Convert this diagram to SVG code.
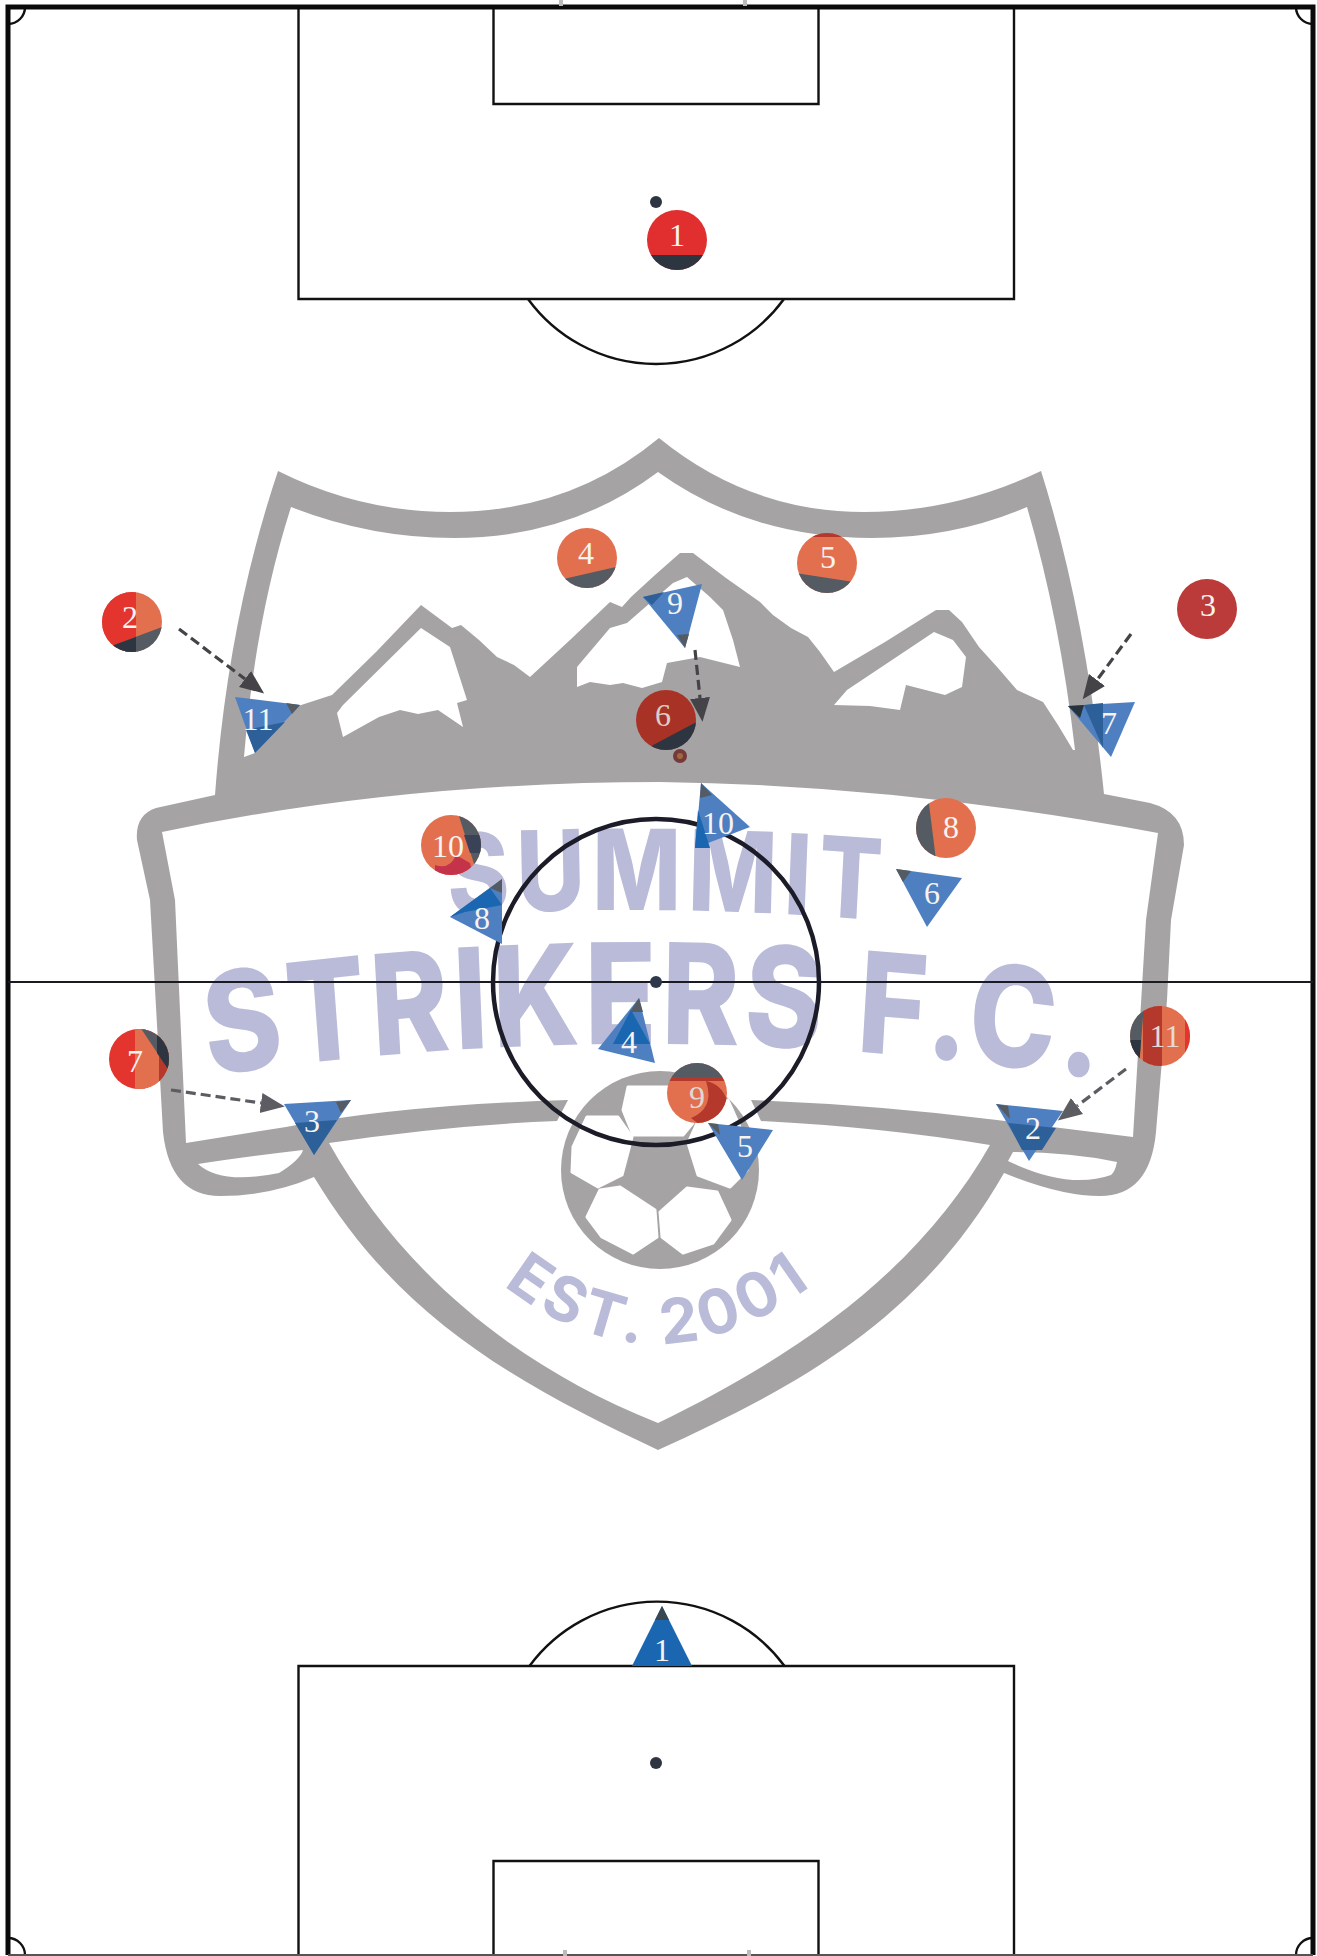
<svg xmlns="http://www.w3.org/2000/svg" width="1317" height="1956" viewBox="0 0 1317 1956">
<style>
.ln{fill:none;stroke:#111;stroke-width:2.4}
.lg{font-family:Inter,"Open Sans","Liberation Sans",sans-serif;font-weight:700;fill:#b9bbd9}
.n{font-family:"Liberation Serif",serif;font-size:32px;fill:#f6f3f0;text-anchor:middle}
.m{fill:#e2704f}.r{fill:#e3352d}.dr{fill:#b5382c}.g{fill:#555b62}.k{fill:#2d3640}
.b{fill:#4d7fc1}.d{fill:#2d5f98}.s{fill:#1a66b0}
.cn{fill:none;stroke-width:3.200;stroke-dasharray:10 5}
</style>
<defs>
<marker id="hd" markerUnits="userSpaceOnUse" markerWidth="25" markerHeight="22" refX="0" refY="11" orient="auto"><path d="M0 1L24 11L0 21Z" fill="#444448"/></marker>
<marker id="hg" markerUnits="userSpaceOnUse" markerWidth="25" markerHeight="22" refX="0" refY="11" orient="auto"><path d="M0 1L24 11L0 21Z" fill="#5c5c62"/></marker>
<path id="p1" d="M534 916Q786 902 1052 921"/>
<path id="p2" d="M248 1076Q781 1010 1315 1080"/>
<path id="p3" d="M500 1283Q655 1405 815 1283"/>
<clipPath id="c1"><circle cx="677" cy="240" r="30"/></clipPath>
<clipPath id="c2"><circle cx="132" cy="622" r="30"/></clipPath>
<clipPath id="c4"><circle cx="587" cy="558" r="30"/></clipPath>
<clipPath id="c5"><circle cx="827" cy="563" r="30"/></clipPath>
<clipPath id="c6"><circle cx="666" cy="720" r="30"/></clipPath>
<clipPath id="c7"><circle cx="139" cy="1059" r="30"/></clipPath>
<clipPath id="c8"><circle cx="946" cy="828" r="30"/></clipPath>
<clipPath id="c9"><circle cx="697" cy="1093" r="30"/></clipPath>
<clipPath id="c10"><circle cx="451" cy="845" r="30"/></clipPath>
<clipPath id="c11"><circle cx="1160" cy="1036" r="30"/></clipPath>
</defs>
<rect width="1317" height="1956" fill="#fff"/>
<g id="logo">
<path fill="#a6a3a4" fill-rule="evenodd" d="M278 471Q360 512 450 512Q570 512 659 438Q750 512 864 512Q955 512 1041 471Q1085 610 1104 794L1150 803Q1184 812 1184 845L1171 920L1167 1000L1156 1132Q1150 1196 1100 1196Q1061 1196 1004 1173C920 1320 800 1385 658 1450C520 1385 400 1320 314 1177Q270 1196 220 1196Q170 1196 163 1132L154 971L150 900L137 840Q135 815 156 808L215 795Q228 620 278 471Z
M291 507Q370 538 454 538Q570 538 658 472Q750 538 872 538Q955 538 1027 507Q1060 620 1075 750L1073 750L1058 725L1043 702L1017 690L998 668L979 647L962 622L949 610L936 610L885 642L834 672L820 652L808 637L791 628L773 615L760 602L726 578L693 553L680 553L655 575L631 597L622 607L610 602L570 640L530 677L514 665L497 657L479 640L461 625L452 628L421 605L376 652L332 695L295 707L255 753L244 757Q255 620 291 507Z
M421 628L450 647L458 672L467 700L457 703L463 727L438 710L418 714L400 710L379 717L343 737L337 713L343 705Z
M577 667L577 687L590 682L610 685L623 683L642 688L662 682L667 663L700 657L740 667L733 640L723 610L710 597L687 577L673 583L627 623L610 628Z
M934 632L953 640L966 657L962 687L945 695L906 685L900 710L870 706L834 705L847 690Z
M162 832Q400 782 660 782Q900 785 1158 833L1146 920L1133 1137L997 1120Q880 1105 751 1100L761 1121Q880 1127 990 1145C930 1250 830 1340 658 1423C500 1360 395 1260 329 1143Q450 1125 557 1121L568 1100Q400 1105 286 1127L186 1143L175 900Z
M198 1164Q243 1157 303 1150Q300 1160 279 1173Q221 1185 198 1164Z
M1013 1152Q1070 1152 1117 1162Q1115 1172 1111 1175Q1069 1190 1008 1161Z"/>
<circle cx="660" cy="1170" r="99" fill="#a6a3a4"/>
<g fill="#fff" stroke="#fff" stroke-width="3" stroke-linejoin="round">
<path d="M628 1087L673 1087L693 1123L683 1135L633 1135L623 1110Z"/>
<path d="M587 1117L618 1117L632 1137L622 1175L598 1187L572 1172L573 1147Z"/>
<path d="M697 1123L728 1100L740 1127L747 1170L730 1187L698 1175L688 1143Z"/>
<path d="M600 1190L620 1187L655 1210L657 1237L633 1253L602 1237L587 1217Z"/>
<path d="M687 1188L717 1192L730 1220L713 1243L683 1253L662 1237L660 1212Z"/>
</g>
<g transform="scale(.84 1)">
<text class="lg" font-size="112" style="font-weight:800"><textPath href="#p1" textLength="514" lengthAdjust="spacing">SUMMIT</textPath></text>
<text class="lg" font-size="140" style="font-weight:800"><textPath href="#p2" textLength="1062" lengthAdjust="spacing">STRIKERS F.C.</textPath></text>
</g>
<text class="lg" font-size="62"><textPath href="#p3" startOffset="4" textLength="335" lengthAdjust="spacing">EST. 2001</textPath></text>
</g>
<g id="pitch">
<path class="ln" d="M298.5 7V299H1014V7M493.500 7V104H818.500V7"/>
<path class="ln" d="M298.500 1955V1666H1014V1955M493.500 1955V1861H818.500V1955"/>
<path class="ln" d="M528 299A158.500 158.500 0 0 0 784 299M529.500 1666A158.500 158.500 0 0 1 784.500 1666"/>
<path class="ln" d="M25 7A17 17 0 0 1 8 24M1296 7A17 17 0 0 0 1313 24M8 1938A17 17 0 0 1 25 1955M1296 1955A17 17 0 0 1 1313 1938"/>
<path d="M8 1955V7H1313V1955" fill="none" stroke="#0a0a0a" stroke-width="5"/>
<path d="M8 1955H1313" fill="none" stroke="#555" stroke-width="2"/>
<path d="M8 982H1313" fill="none" stroke="#1a1a24" stroke-width="2"/>
<circle cx="656" cy="982" r="163" fill="none" stroke="#1c1c28" stroke-width="4.500"/>
<circle cx="656" cy="982" r="6" fill="#2e3a4c"/>
<circle cx="656" cy="202" r="6" fill="#2d3640"/>
<circle cx="656" cy="1763" r="6" fill="#2d3640"/>
<path d="M561 0V6M745 0V6M565 1950V1956M749 1950V1956" stroke="#bbb" stroke-width="4" fill="none"/>
</g>
<g id="connectors">
<path class="cn" stroke="#444448" marker-end="url(#hd)" d="M179 629L245 679"/>
<path class="cn" stroke="#444448" marker-end="url(#hd)" d="M695 650L700 698"/>
<path class="cn" stroke="#444448" marker-end="url(#hd)" d="M1131 634L1097 680"/>
<path class="cn" stroke="#5c5c62" marker-end="url(#hg)" d="M171 1090L261 1103"/>
<path class="cn" stroke="#5c5c62" marker-end="url(#hg)" d="M1126 1069L1077 1106"/>
</g>
<g id="red-1"><g clip-path="url(#c1)"><rect x="640" y="205" width="74" height="70" fill="#e02f2e"/><rect class="k" x="640" y="255" width="74" height="20"/></g><text class="n" x="677" y="246">1</text></g>
<g id="red-2"><g clip-path="url(#c2)"><rect class="m" x="100" y="590" width="64" height="64"/><rect class="r" x="100" y="590" width="36" height="64"/><path class="g" d="M95 652L170 624V660H95Z"/><path class="k" d="M95 652L136 637V660H95Z"/></g><text class="n" x="130" y="628">2</text></g>
<g id="red-3"><circle cx="1207" cy="609" r="30" fill="#bb3b3a"/><text class="n" x="1208" y="616">3</text></g>
<g id="red-4"><g clip-path="url(#c4)"><rect class="m" x="555" y="526" width="64" height="64"/><path class="g" d="M555 581L620 566V590H555Z"/></g><text class="n" x="586" y="564">4</text></g>
<g id="red-5"><g clip-path="url(#c5)"><rect class="m" x="795" y="531" width="64" height="64"/><rect class="dr" x="795" y="531" width="64" height="6"/><path class="g" d="M795 573L860 583V595H795Z"/></g><text class="n" x="828" y="568">5</text></g>
<g id="red-6"><g clip-path="url(#c6)"><rect x="634" y="688" width="64" height="64" fill="#a93226"/><path class="k" d="M640 752L700 720V752Z"/></g><text class="n" x="663" y="726" style="fill:#d9cfc9">6</text></g>
<g id="red-7"><g clip-path="url(#c7)"><rect class="r" x="107" y="1027" width="64" height="64"/><rect class="m" x="135" y="1027" width="40" height="64"/><rect class="dr" x="159" y="1027" width="14" height="64"/><path class="g" d="M140 1027L172 1075V1027Z"/><path class="k" d="M157 1053L172 1075V1027H157Z"/></g><text class="n" x="135" y="1072">7</text></g>
<g id="red-8"><g clip-path="url(#c8)"><rect class="m" x="914" y="796" width="64" height="64"/><path class="g" d="M914 796H928L936 860H914Z"/></g><text class="n" x="951" y="838">8</text></g>
<g id="red-9"><g clip-path="url(#c9)"><rect class="m" x="665" y="1061" width="64" height="64"/><rect class="g" x="665" y="1061" width="64" height="16"/><rect class="dr" x="665" y="1077" width="64" height="4"/><path class="dr" d="M706 1081Q726 1085 729 1110L700 1125L691 1118Q715 1108 706 1081Z"/></g><text class="n" x="697" y="1108" style="fill:#e0d8d3">9</text></g>
<g id="red-10"><g clip-path="url(#c10)"><rect class="m" x="419" y="813" width="64" height="64"/><path d="M435 865Q450 870 456 855L470 863L474 878H435Z" fill="#c4334a"/><path class="g" d="M458 813L476 870H485V813Z"/><path d="M464 835L485 835V853L470 853Z" fill="#3a4258"/></g><text class="n" x="448" y="857">10</text></g>
<g id="red-11"><g clip-path="url(#c11)"><rect class="m" x="1128" y="1004" width="64" height="64"/><rect class="dr" x="1143" y="1004" width="19" height="64"/><rect class="r" x="1185" y="1004" width="8" height="64"/><path class="g" d="M1128 1004H1144L1139 1068H1128Z"/><path class="k" d="M1128 1040H1141L1139 1068H1128Z"/></g><text class="n" x="1165" y="1047" style="fill:#e6dad5">11</text></g>
<g id="blue-1"><path class="s" d="M662 1606L692 1666H632Z"/><path d="M662 1606L669 1620H655Z" fill="#3b4750"/><text class="n" x="662" y="1661">1</text></g>
<g id="blue-2"><path class="b" d="M996 1104L1063 1111L1029 1161Z"/><path class="d" d="M1008 1123L1056 1128L1042 1150H1022Z"/><path class="g" d="M996 1104L1008 1106L1010 1119Z"/><text class="n" x="1033" y="1139">2</text></g>
<g id="blue-3"><path class="b" d="M284 1104L351 1100L314 1155Z"/><path class="d" d="M295 1123L337 1120L314 1155Z"/><path class="g" d="M351 1100L336 1102L341 1113Z"/><text class="n" x="312" y="1132">3</text></g>
<g id="blue-4"><path class="b" d="M639 998L655 1063L598 1049Z"/><path class="s" d="M631 1010L650 1044H613Z"/><path class="g" d="M639 998L643 1012H630Z"/><text class="n" x="629" y="1053">4</text></g>
<g id="blue-5"><path class="b" d="M708 1123L773 1130L742 1180Z"/><path class="g" d="M708 1123L718 1124L720 1135Z"/><text class="n" x="745" y="1157">5</text></g>
<g id="blue-6"><path class="b" d="M896 869L962 878L927 927Z"/><path class="g" d="M896 869L911 871L903 882Z"/><text class="n" x="932" y="904">6</text></g>
<g id="blue-7"><path class="b" d="M1068 706L1135 702L1111 757Z"/><path class="d" d="M1084 705L1103 703L1103 748Z"/><path d="M1068 706L1084 705L1080 718Z" fill="#26323c"/><text class="n" x="1109" y="734">7</text></g>
<g id="blue-8"><path class="b" d="M502 879L502 944L450 917Z"/><path class="s" d="M490 888L502 905L465 912L450 917Z"/><path class="g" d="M502 879V893L490 888Z"/><text class="n" x="482" y="929">8</text></g>
<g id="blue-9"><path class="b" d="M643 597L702 584L685 648Z"/><path class="d" d="M643 597L664 592L652 605Z"/><path class="g" d="M685 648L677 635L689 634Z"/><text class="n" x="675" y="614">9</text></g>
<g id="blue-10"><path class="b" d="M701 783L750 827L695 848Z"/><path class="s" d="M698 810L710 848H695Z"/><path class="g" d="M701 783L712 795L700 798Z"/><text class="n" x="718" y="834">10</text></g>
<g id="blue-11"><path class="b" d="M235 697L300 705L255 753Z"/><path class="d" d="M246 730L285 722L255 753Z"/><path class="g" d="M300 705L286 703L292 714Z"/><text class="n" x="258" y="730">11</text></g>
<g id="ball"><circle cx="680" cy="756" r="7" fill="#74393a"/><circle cx="680" cy="756" r="3" fill="#a0683c"/></g>
</svg>
